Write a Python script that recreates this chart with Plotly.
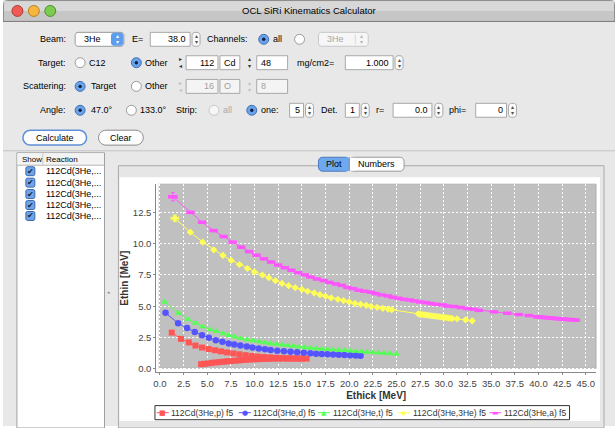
import plotly.graph_objects as go

# ---------------- data ----------------
series_names = ["112Cd(3He,p) f5", "112Cd(3He,d) f5", "112Cd(3He,t) f5",
                "112Cd(3He,3He) f5", "112Cd(3He,a) f5"]

p_upper_x = [1.25, 2.22, 3.05, 3.75, 4.45, 5.15, 5.82, 6.46, 7.1, 7.75, 8.4, 9.05, 9.7,
             10.35, 11.0, 11.65, 12.3, 12.95, 13.6, 14.25, 14.9, 15.5]
p_upper_y = [2.90, 2.40, 2.12, 1.87, 1.71, 1.59, 1.49, 1.40, 1.32, 1.24, 1.17, 1.10, 1.04,
             0.99, 0.95, 0.92, 0.89, 0.87, 0.85, 0.84, 0.83, 0.83]
p_lower_x = [15.0, 14.5, 14.0, 13.5, 13.0, 12.5, 12.0, 11.5, 11.1, 10.7, 10.3, 9.9, 9.5,
             9.1, 8.7, 8.3, 7.9, 7.5, 7.1, 6.7, 6.3, 5.9, 5.5, 5.1, 4.7, 4.35]
p_lower_y = [0.83, 0.83, 0.83, 0.83, 0.83, 0.82, 0.82, 0.81, 0.80, 0.79, 0.78, 0.77, 0.75,
             0.73, 0.71, 0.68, 0.66, 0.63, 0.61, 0.58, 0.55, 0.52, 0.49, 0.45, 0.41, 0.38]

d_x = [0.59, 1.92, 2.87, 3.68, 4.45, 5.18, 5.9, 6.6, 7.27, 7.86, 8.5, 9.18, 9.79, 10.45,
       11.1, 11.7, 12.4, 13.1, 13.8, 14.5, 15.2, 15.9, 16.5, 17.1, 17.7, 18.3, 18.9, 19.5,
       20.1, 20.7, 21.2]
d_y = [4.48, 3.65, 3.26, 2.95, 2.69, 2.49, 2.30, 2.18, 2.04, 1.95, 1.87, 1.79, 1.71, 1.64,
       1.57, 1.52, 1.46, 1.41, 1.37, 1.33, 1.29, 1.25, 1.22, 1.19, 1.17, 1.15, 1.13, 1.11,
       1.09, 1.07, 1.06]

t_x = [0.5, 1.95, 2.96, 3.75, 4.53, 5.32, 5.97, 6.68, 7.28, 7.92, 8.56, 9.23, 9.85, 10.5,
       11.1, 11.7, 12.3, 12.9, 13.5, 14.1, 14.7, 15.3, 15.9, 16.5, 17.1, 17.7, 18.3, 18.9,
       19.5, 20.1, 20.7, 21.3, 21.9, 22.5, 23.1, 23.7, 24.3, 25.0]
t_y = [5.35, 4.45, 3.96, 3.66, 3.37, 3.15, 3.00, 2.83, 2.69, 2.57, 2.44, 2.35, 2.27, 2.18,
       2.10, 2.03, 1.98, 1.93, 1.88, 1.82, 1.76, 1.71, 1.66, 1.63, 1.60, 1.57, 1.54, 1.51,
       1.48, 1.45, 1.42, 1.39, 1.35, 1.32, 1.29, 1.26, 1.23, 1.18]

he3_x = [1.58, 3.22, 4.52, 5.68, 6.66, 7.53, 8.41, 9.25, 9.99, 10.83, 11.5, 12.2, 12.9,
         13.6, 14.3, 15.0, 15.6, 16.3, 16.9, 17.5, 18.1, 18.8, 19.4, 20.0, 20.6, 21.2,
         21.8, 22.3, 22.95, 23.55, 24.1, 24.5, 27.3, 27.5, 27.7, 27.9, 28.1, 28.3, 28.5,
         28.7, 28.9, 29.1, 29.3, 29.5, 29.7, 29.9, 30.1, 30.3, 30.5, 30.7, 30.9, 31.4,
         32.3, 33.0]
he3_y = [12.02, 10.91, 10.12, 9.51, 9.06, 8.66, 8.34, 8.02, 7.74, 7.50, 7.28, 7.05, 6.83,
         6.65, 6.49, 6.35, 6.20, 6.07, 5.93, 5.80, 5.67, 5.56, 5.46, 5.35, 5.24, 5.16,
         5.08, 5.00, 4.92, 4.84, 4.78, 4.73, 4.40, 4.37, 4.35, 4.33, 4.31, 4.29, 4.27,
         4.25, 4.23, 4.21, 4.19, 4.17, 4.15, 4.13, 4.11, 4.09, 4.07, 4.05, 4.03, 4.00,
         3.92, 3.84]
he3_err_x = 0.40
he3_err_y = 0.26

a_x = [1.37, 3.22, 4.45, 5.68, 6.73, 7.68, 8.58, 9.42, 10.2, 11.0, 11.74, 12.5, 13.2,
       13.9, 14.6, 15.3, 15.9, 16.6, 17.3, 17.9, 18.6, 19.2, 19.8, 20.4, 21.0, 21.6, 22.3,
       22.8, 23.4, 24.1, 24.6, 25.2, 25.8, 26.4, 26.9, 27.5, 28.1, 28.6, 29.2, 29.9, 30.4,
       31.1, 31.8, 32.5, 33.2, 33.7, 35.3, 36.7, 37.9, 39.0, 39.85, 40.15, 40.45, 40.75,
       41.05, 41.35, 41.65, 41.95, 42.25, 42.55, 42.85, 43.15, 43.45, 43.7, 43.95]
a_y = [13.74, 12.50, 11.71, 11.04, 10.57, 10.12, 9.72, 9.37, 9.08, 8.79, 8.53, 8.29, 8.08,
       7.88, 7.68, 7.51, 7.34, 7.18, 7.05, 6.91, 6.78, 6.67, 6.51, 6.41, 6.28, 6.20, 6.12,
       6.01, 5.91, 5.83, 5.72, 5.64, 5.56, 5.51, 5.43, 5.35, 5.30, 5.22, 5.16, 5.11, 5.02,
       4.98, 4.90, 4.82, 4.77, 4.68, 4.56, 4.45, 4.34, 4.26, 4.16, 4.14, 4.12, 4.10,
       4.08, 4.06, 4.04, 4.02, 4.00, 3.98, 3.96, 3.95, 3.93, 3.92, 3.90]
a_err_x = 0.45
a_err_y = 0.33

x_tick_step = 2.5
y_tick_step = 2.5

# ---------------- styles ----------------
W, H = 615, 428
RED, BLUE, GREEN, YELLOW, MAGENTA = "#FF5555", "#5555FF", "#55FF55", "#FFFF55", "#FF55FF"
GUI_FONT = "Liberation Sans"

def px(x):
    return x / W

def py(y):
    return 1 - y / H

shapes = []
annotations = []

def _line(color, lw):
    return dict(color=color if color else "rgba(0,0,0,0)", width=lw if color else 0)

def rect(x0, y0, x1, y1, fill, line=None, lw=1):
    shapes.append(dict(type="rect", xref="paper", yref="paper", layer="below",
                       x0=px(x0), x1=px(x1), y0=py(y1), y1=py(y0), fillcolor=fill,
                       line=_line(line, lw)))

def rrect(x0, y0, x1, y1, r, fill, line=None, lw=1):
    r = min(r, (x1 - x0) / 2, (y1 - y0) / 2)
    k = 0.45 * r
    pts = [("M", x0 + r, y0), ("L", x1 - r, y0), ("C", x1 - k, y0, x1, y0 + k, x1, y0 + r),
           ("L", x1, y1 - r), ("C", x1, y1 - k, x1 - k, y1, x1 - r, y1),
           ("L", x0 + r, y1), ("C", x0 + k, y1, x0, y1 - k, x0, y1 - r),
           ("L", x0, y0 + r), ("C", x0, y0 + k, x0 + k, y0, x0 + r, y0)]
    path = ""
    for p in pts:
        cmd, vals = p[0], p[1:]
        coords = [f"{px(vals[i]):.5f},{py(vals[i + 1]):.5f}" for i in range(0, len(vals), 2)]
        path += cmd + " ".join(coords) + " "
    shapes.append(dict(type="path", xref="paper", yref="paper", layer="below", path=path + "Z",
                       fillcolor=fill, line=_line(line, lw)))

def circle(xc, yc, r, fill, line=None, lw=1):
    shapes.append(dict(type="circle", xref="paper", yref="paper", layer="below",
                       x0=px(xc - r), x1=px(xc + r), y0=py(yc + r), y1=py(yc - r), fillcolor=fill,
                       line=_line(line, lw)))

def hline(x0, x1, y, color, lw=1):
    shapes.append(dict(type="line", xref="paper", yref="paper", layer="below",
                       x0=px(x0), x1=px(x1), y0=py(y), y1=py(y), line=dict(color=color, width=lw)))

def vline(x, y0, y1, color, lw=1):
    shapes.append(dict(type="line", xref="paper", yref="paper", layer="below",
                       x0=px(x), x1=px(x), y0=py(y0), y1=py(y1), line=dict(color=color, width=lw)))

def text(x, y, s, size=9, color="#000000", anchor="left", bold=False, family=GUI_FONT):
    if bold:
        s = "<b>" + s + "</b>"
    annotations.append(dict(xref="paper", yref="paper", x=px(x), y=py(y), text=s, showarrow=False,
                            xanchor=anchor, yanchor="middle", borderpad=0,
                            font=dict(family=family, size=size, color=color)))

def field(x0, x1, yc, s="", disabled=False, align="right"):
    rect(x0, yc - 7, x1, yc + 7, "#ffffff" if not disabled else "#f4f4f4", "#a8a8a8")
    if s:
        col = "#a0a0a0" if disabled else "#000000"
        if align == "right":
            text(x1 - 3, yc, s, color=col, anchor="right")
        else:
            text(x0 + 3, yc, s, color=col, anchor="left")

def spinner(x0, yc, disabled=False):
    rrect(x0, yc - 7, x0 + 8, yc + 7, 3, "#fbfbfb", "#a8a8a8")
    col = "#b0b0b0" if disabled else "#505050"
    text(x0 + 4, yc - 3, "▴", size=6, color=col, anchor="center")
    text(x0 + 4, yc + 3, "▾", size=6, color=col, anchor="center")

def arrows(x, yc, disabled=False):
    col = "#c0c0c0" if disabled else "#303030"
    text(x, yc - 3.5, "▸", size=6, color=col, anchor="center")
    text(x, yc + 3.5, "◂", size=6, color=col, anchor="center")

def udarrows(x, yc, disabled=False):
    col = "#c0c0c0" if disabled else "#303030"
    text(x, yc - 3.5, "▴", size=6, color=col, anchor="center")
    text(x, yc + 3.5, "▾", size=6, color=col, anchor="center")

def radio(xc, yc, selected, disabled=False):
    if selected:
        circle(xc, yc, 5, "#6aa3ec", "#3d6fb5")
        circle(xc, yc, 1.7, "#10203a")
    else:
        circle(xc, yc, 5, "#ffffff" if not disabled else "#f6f6f6",
               "#9a9a9a" if not disabled else "#c8c8c8")

def popup(x0, x1, yc, s, disabled=False):
    rrect(x0, yc - 7, x1, yc + 7, 3, "#ffffff" if not disabled else "#f6f6f6",
          "#9a9a9a" if not disabled else "#c8c8c8")
    if not disabled:
        rrect(x1 - 13, yc - 6.5, x1 - 0.5, yc + 6.5, 3, "#5d9ded")
        text(x1 - 6.5, yc - 3, "▴", size=6, color="#ffffff", anchor="center")
        text(x1 - 6.5, yc + 3, "▾", size=6, color="#ffffff", anchor="center")
        text(x0 + 8, yc, s)
    else:
        vline(x1 - 13, yc - 5, yc + 5, "#d8d8d8")
        text(x1 - 6.5, yc - 3, "▴", size=6, color="#b8b8b8", anchor="center")
        text(x1 - 6.5, yc + 3, "▾", size=6, color="#b8b8b8", anchor="center")
        text(x0 + 8, yc, s, color="#a8a8a8")

def button(x0, x1, yc, s, default=False):
    rrect(x0, yc - 7.5, x1, yc + 7.5, 7.5, "#fdfdfd", "#5f8fd6" if default else "#8c8c8c",
          lw=1.5 if default else 1)
    text((x0 + x1) / 2, yc, s, anchor="center")

# ---------------- window chrome ----------------
rect(0, 0, W, H, "#e8e8e8")
rrect(0.5, 0.5, 614.5, 24, 4, "#c6c6c6", "#8e8e8e")
rect(1.2, 1.3, 613.8, 11, "#d8d8d8")
hline(0, W, 21.5, "#7a7a7a")
rect(0, 22, W, 25, "#e8e8e8")
circle(14.5, 11, 5.5, "#ee5b55", "#b03a36")
circle(31, 11, 5.5, "#f4b63c", "#b88322")
circle(47.5, 11, 5.5, "#7dcb4e", "#4d8f2e")
text(307.5, 11, "OCL SiRi Kinematics Calculator", size=9.5, anchor="center")

R1, R2, R3, R4, R5 = 39.5, 63.0, 86.8, 110.8, 138.3
# row 1
text(64, R1, "Beam:", anchor="right")
popup(72.5, 121.5, R1, "3He")
text(129, R1, "E=")
field(148, 188, R1, "38.0")
spinner(190, R1)
text(204, R1, "Channels:")
radio(262, R1, True)
text(270, R1, "all")
radio(298, R1, False)
popup(317, 367, R1, "3He", disabled=True)
# row 2
text(64, R2, "Target:", anchor="right")
radio(77.5, R2, False)
text(85, R2, "C12")
radio(134, R2, True)
text(142, R2, "Other")
arrows(178, R2)
field(184, 216, R2, "112")
field(218, 238, R2, "Cd", align="left")
udarrows(248, R2)
field(255, 286, R2, "48", align="left")
text(294, R2, "mg/cm2=")
field(344, 392, R2, "1.000")
spinner(394, R2)
# row 3
text(64, R3, "Scattering:", anchor="right")
radio(77.5, R3, True)
text(87, R3, "Target")
radio(134, R3, False)
text(142, R3, "Other")
arrows(178, R3, disabled=True)
field(184, 216, R3, "16", disabled=True)
field(218, 238, R3, "O", disabled=True, align="left")
udarrows(248, R3, disabled=True)
field(255, 286, R3, "8", disabled=True, align="left")
# row 4
text(64, R4, "Angle:", anchor="right")
radio(77.5, R4, True)
text(87, R4, "47.0°")
radio(129, R4, False)
text(137, R4, "133.0°")
text(173, R4, "Strip:")
radio(212, R4, False, disabled=True)
text(220, R4, "all", color="#a8a8a8")
radio(250, R4, True)
text(258, R4, "one:")
field(288, 302, R4, "5")
spinner(304, R4)
text(319, R4, "Det.")
field(344, 358, R4, "1")
spinner(360, R4)
text(374, R4, "r=")
field(392, 431, R4, "0.0")
spinner(434, R4)
text(447, R4, "phi=")
field(475, 506, R4, "0")
spinner(508, R4)
# row 5
button(20, 84, R5, "Calculate", default=True)
button(96, 141, R5, "Clear")

# left table
hline(0, W, 151.5, "#c4c4c4")
rect(14, 153.5, 102, H + 2, "#ffffff", "#a0a0a0")
rect(14.5, 154, 101.5, 166, "#f3f3f3")
hline(14, 102, 166, "#b8b8b8")
vline(40, 154, 166, "#c8c8c8")
text(18, 160, "Show", size=8)
text(42, 160, "Reaction", size=8)
for i, yrow in enumerate([172, 183.5, 195, 206, 217]):
    rrect(23, yrow - 4.5, 32, yrow + 4.5, 1.5, "#6fa4e8", "#3c68aa")
    text(27.5, yrow, "✔", size=7.5, color="#14243d", anchor="center")
    text(42, yrow, "112Cd(3He,...", size=9)
text(106, 293, "◂", size=5, color="#8a8a8a", anchor="center")

# tab pane
rect(116, 166.5, 604, H + 2, "#e6e6e6", "#a9a9a9")
rect(117, 178, 600, 423, "#ffffff")
rrect(317, 158, 348, 172, 4, "#6ea8ee", "#4b78b8")
rect(340, 158.5, 348, 171.5, "#6ea8ee")
rrect(348, 158, 403, 172, 4, "#fdfdfd", "#9a9a9a")
rect(348, 158.5, 354, 171.5, "#fdfdfd")
vline(348, 158, 172, "#7a8aa8")
text(332.5, 165, "Plot", size=9, anchor="center")
text(375.5, 165, "Numbers", size=9, anchor="center")

# chart plot background
rect(157, 185, 596, 370, "#c0c0c0", "#a0a0a0", lw=0.7)

# legend (box, keys and labels)
rect(152.7, 407.5, 569.3, 421.7, "#ffffff", "#333333")
leg_y = 414.6
leg_keys = [(160.5, 168.3, RED, "■"), (243.0, 250.2, BLUE, "●"), (322.5, 331.0, GREEN, "▲"),
            (403.3, 411.0, YELLOW, "◆"), (494.7, 502.7, MAGENTA, "▬")]
for (cx, tx, col, glyph), name in zip(leg_keys, series_names):
    hline(cx - 6, cx + 6, leg_y, col, lw=1)
    text(cx, leg_y, glyph, size=7, color=col, anchor="center", family="DejaVu Sans")
    text(tx, leg_y, name, size=8.5, color="#333333")

# ---------------- traces ----------------
fig = go.Figure()

def add_series(xs, ys, color, symbol, size, name, line_w=None):
    marker = dict(color=color, symbol=symbol, size=size)
    marker["line"] = dict(color=color, width=line_w) if line_w is not None else dict(width=0)
    fig.add_trace(go.Scatter(x=xs, y=ys, mode="lines+markers", name=name,
                             line=dict(color=color, width=1), marker=marker,
                             showlegend=False, cliponaxis=False))

add_series(p_upper_x + p_lower_x, p_upper_y + p_lower_y, RED, "square", 6, series_names[0])
add_series(d_x, d_y, BLUE, "circle", 6.5, series_names[1])
add_series(t_x, t_y, GREEN, "triangle-up", 6.5, series_names[2])
add_series(he3_x, he3_y, YELLOW, "diamond", 5.5, series_names[3])
add_series(a_x, a_y, MAGENTA, "line-ew", 6, series_names[4], line_w=3.5)

# error bars on the first points of the 3He and alpha series
for xs, ys, ex, ey, col in [(he3_x, he3_y, he3_err_x, he3_err_y, YELLOW),
                            (a_x, a_y, a_err_x, a_err_y, MAGENTA)]:
    fig.add_trace(go.Scatter(x=xs[:1], y=ys[:1], mode="markers", showlegend=False,
                             marker=dict(color=col, size=1, opacity=0),
                             error_x=dict(type="constant", value=ex, color=col, thickness=1, width=2),
                             error_y=dict(type="constant", value=ey, color=col, thickness=1, width=2)))

# ---------------- axes ----------------
x_px0, x_scale = 157.7, 9.51   # pixel of x=0, pixels per MeV
y_px0, y_scale = 370.7, 12.59
ax_left, ax_right, ax_top, ax_bottom = 154, 596, 185, 374

axis_common = dict(ticks="outside", ticklen=2, tickcolor="#888888", showline=True,
                   linecolor="#888888", linewidth=1, showgrid=True, gridcolor="#ffffff",
                   gridwidth=0.6, griddash="2px,2px", zeroline=False, tickformat=".1f",
                   tickfont=dict(family=GUI_FONT, size=9.5, color="#444444"))

fig.update_layout(
    width=W, height=H, margin=dict(l=0, r=0, t=0, b=0),
    paper_bgcolor="#ffffff", plot_bgcolor="rgba(0,0,0,0)",
    xaxis=dict(domain=[px(ax_left), px(ax_right)],
               range=[(ax_left - x_px0) / x_scale, (ax_right - x_px0) / x_scale],
               tick0=0, dtick=x_tick_step,
               title=dict(text="<b>Ethick [MeV]</b>", standoff=4,
                          font=dict(family=GUI_FONT, size=10, color="#333333")),
               **axis_common),
    yaxis=dict(domain=[py(ax_bottom), py(ax_top)],
               range=[(y_px0 - ax_bottom) / y_scale, (y_px0 - ax_top) / y_scale],
               tick0=0, dtick=y_tick_step,
               title=dict(text="<b>Ethin [MeV]</b>", standoff=2,
                          font=dict(family=GUI_FONT, size=10, color="#333333")),
               **axis_common),
    shapes=shapes, annotations=annotations, showlegend=False,
)

fig.write_html("out.html", config={"displayModeBar": False},
               post_script="document.body.style.margin='0';document.body.style.overflow='hidden';")
